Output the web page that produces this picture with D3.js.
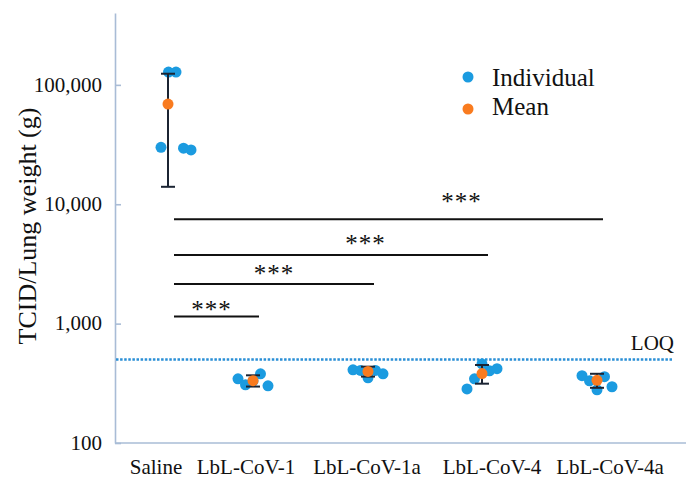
<!DOCTYPE html>
<html><head><meta charset="utf-8">
<script src="https://cdn.jsdelivr.net/npm/d3@7"></script>
<style>
body{margin:0;background:#fff;}
svg{display:block;font-family:"Liberation Serif","Times New Roman",serif;}
</style></head><body>
<svg id="chart" width="686" height="480"></svg>
<script>
// ---- data ----
const categories = ["Saline","LbL-CoV-1","LbL-CoV-1a","LbL-CoV-4","LbL-CoV-4a"];
const salineValues = [30000,128000,128000,29500,28500];
const cov1Values   = [345,307,330,380,301];
const cov1aValues  = [410,405,352,405,380];
const cov4Values   = [284,345,460,403,419];
const cov4aValues  = [366,332,279,359,296];
const meanValues   = [69000,333,398,382,335];
const sdValues     = [55000,36,38,68,45];
const loqValue = 500;
const yTickValues = [100,1000,10000,100000];
const yTickLabels = ["100","1,000","10,000","100,000"];
const sigTargets = ["LbL-CoV-1","LbL-CoV-1a","LbL-CoV-4","LbL-CoV-4a"];
const sigLevels = [1150,2150,3750,7500];
const sigLabelLevels = [1400,2800,5000,11300];
const sigLabels = ["***","***","***","***"];
const legendLabels = ["Individual","Mean"];

// ---- layout ----
const W = 686, H = 480;
const axisX = 115, plotTop = 13, plotBottom = 443;
const blue = "#1b9be0", orange = "#f97b1f", axisColor = "#a9bcd6", ink = "#111";
const groups = [salineValues, cov1Values, cov1aValues, cov4Values, cov4aValues];

const svg = d3.select("#chart");
const y = d3.scaleLog().domain([100, 400000]).range([plotBottom, plotTop]);
const x = d3.scaleOrdinal().domain(categories).range([168,253,368,482,597]);
const xLabel = d3.scaleOrdinal().domain(categories).range([156,246,367,492,610]);
const jitter = d3.scalePoint().domain(d3.range(5)).range([-15,15]);
const groupShift = d3.scaleOrdinal().domain(categories).range([8,0,0,0,0]);
const labelFrac = [0.44,0.5,0.61,0.67];

// y axis
const yAxis = svg.append("g").attr("transform", `translate(${axisX},0)`)
  .call(d3.axisLeft(y).tickValues(yTickValues).tickFormat((d,i)=>yTickLabels[i])
        .tickSizeInner(-6).tickSizeOuter(0).tickPadding(13));
yAxis.select(".domain").attr("stroke", axisColor).attr("stroke-width", 1.6);
yAxis.selectAll(".tick line").attr("stroke", axisColor).attr("stroke-width", 1.6);
yAxis.selectAll(".tick text").attr("fill", ink).attr("font-size", 21)
  .attr("font-family", "Liberation Serif, serif").attr("dy", "0.3em");

// x axis line
svg.append("line").attr("x1", axisX).attr("x2", W).attr("y1", plotBottom).attr("y2", plotBottom)
  .attr("stroke", axisColor).attr("stroke-width", 1.6);
svg.append("g").selectAll("text").data(categories).join("text")
  .attr("x", d => xLabel(d)).attr("y", 474).attr("text-anchor", "middle")
  .attr("font-size", 21).attr("fill", ink).text(d => d);

// y title
svg.append("text").attr("transform", "translate(27,226) rotate(-90)")
  .attr("text-anchor", "middle").attr("dominant-baseline", "central")
  .attr("font-size", 26).attr("fill", ink).text("TCID/Lung weight (g)");

// LOQ
svg.append("line").attr("x1", axisX + 1).attr("x2", 672).attr("y1", y(loqValue)).attr("y2", y(loqValue))
  .attr("stroke", "#2a8fd6").attr("stroke-width", 2.5).attr("stroke-dasharray", "2.5,1.6");
svg.append("text").attr("x", 674).attr("y", y(loqValue) - 10).attr("text-anchor", "end")
  .attr("font-size", 21).attr("fill", ink).text("LOQ");

// significance bars
const sigStart = x("Saline") + 6;
sigTargets.forEach((t, i) => {
  const xEnd = x(t) + 6;
  svg.append("line").attr("x1", sigStart).attr("x2", xEnd)
    .attr("y1", y(sigLevels[i])).attr("y2", y(sigLevels[i]))
    .attr("stroke", ink).attr("stroke-width", 2);
  svg.append("text").attr("x", sigStart + (xEnd - sigStart) * labelFrac[i])
    .attr("y", y(sigLabelLevels[i]) + 12).attr("text-anchor", "middle")
    .attr("font-size", 25).attr("letter-spacing", 1).attr("fill", ink).text(sigLabels[i]);
});

// individual points
categories.forEach((c, gi) => {
  svg.append("g").selectAll("circle").data(groups[gi]).join("circle")
    .attr("cx", (d, i) => x(c) + groupShift(c) + jitter(i))
    .attr("cy", d => y(d)).attr("r", 5.5).attr("fill", blue);
});

// error bars (mean ± SD)
const eb = svg.append("g").attr("stroke", "#1b2433").attr("stroke-width", 2);
categories.forEach((c, i) => {
  const hi = y(meanValues[i] + sdValues[i]), lo = y(meanValues[i] - sdValues[i]);
  eb.append("line").attr("x1", x(c)).attr("x2", x(c)).attr("y1", hi).attr("y2", lo);
  eb.append("line").attr("x1", x(c) - 7).attr("x2", x(c) + 7).attr("y1", hi).attr("y2", hi);
  eb.append("line").attr("x1", x(c) - 7).attr("x2", x(c) + 7).attr("y1", lo).attr("y2", lo);
});

// means
svg.append("g").selectAll("circle").data(meanValues).join("circle")
  .attr("cx", (d, i) => x(categories[i])).attr("cy", d => y(d)).attr("r", 5.5).attr("fill", orange);

// legend
const lg = svg.append("g");
[blue, orange].forEach((col, i) => {
  lg.append("circle").attr("cx", 468).attr("cy", 77 + i * 32).attr("r", 5.5).attr("fill", col);
  lg.append("text").attr("x", 492).attr("y", 86 + i * 28.5).attr("font-size", 25)
    .attr("fill", ink).text(legendLabels[i]);
});
</script></body></html>
